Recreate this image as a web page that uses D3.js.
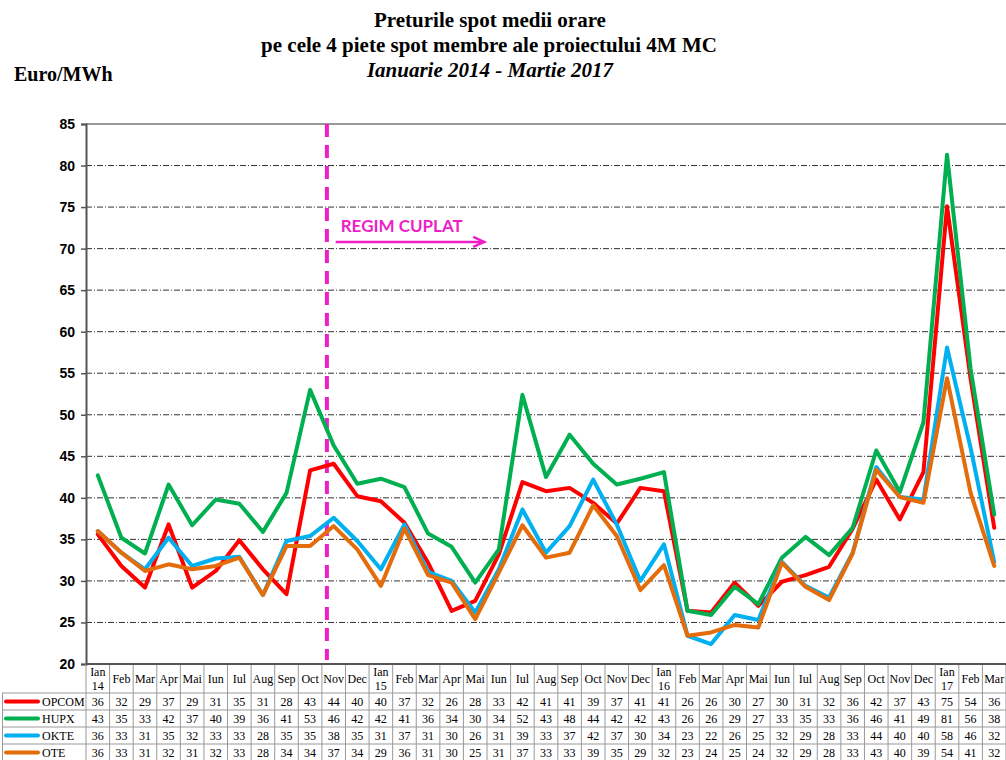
<!DOCTYPE html>
<html>
<head>
<meta charset="utf-8">
<script src="https://cdn.jsdelivr.net/npm/d3@7"></script>
<style>
  body { margin: 0; background: #fff; }
  svg { display: block; }
</style>
</head>
<body>
<svg id="chart"></svg>
<script>
// month labels (two-line ones carry the year)
const months = ["Ian 14", "Feb", "Mar", "Apr", "Mai", "Iun", "Iul", "Aug", "Sep", "Oct", "Nov", "Dec",
    "Ian 15", "Feb", "Mar", "Apr", "Mai", "Iun", "Iul", "Aug", "Sep", "Oct", "Nov", "Dec",
    "Ian 16", "Feb", "Mar", "Apr", "Mai", "Iun", "Iul", "Aug", "Sep", "Oct", "Nov", "Dec",
    "Ian 17", "Feb", "Mar"];

const opcom = [35.6, 31.8, 29.2, 36.8, 29.2, 31.2, 34.9, 31.4, 28.4, 43.3, 44.1, 40.2,
    39.6, 37.0, 32.2, 26.4, 27.6, 33.2, 41.9, 40.8, 41.2, 39.4, 36.9, 41.2,
    40.8, 26.4, 26.2, 29.8, 27.0, 29.9, 30.7, 31.7, 36.3, 42.2, 37.4, 43.1,
    75.1, 54.3, 36.4];
const hupx = [42.7, 35.2, 33.3, 41.6, 36.7, 39.8, 39.3, 35.9, 40.6, 53.0, 46.3, 41.7,
    42.3, 41.3, 35.7, 34.1, 29.8, 33.8, 52.4, 42.5, 47.6, 44.1, 41.6, 42.3,
    43.1, 26.4, 25.9, 29.3, 27.2, 32.8, 35.3, 33.1, 36.4, 45.7, 40.7, 49.1,
    81.3, 55.5, 38.0];
const okte = [36.0, 33.4, 31.4, 35.2, 31.8, 32.7, 32.9, 28.3, 34.8, 35.4, 37.6, 34.8,
    31.4, 36.8, 31.1, 30.0, 26.2, 31.4, 38.6, 33.4, 36.6, 42.2, 36.8, 30.0,
    34.4, 23.4, 22.4, 25.9, 25.3, 32.3, 29.4, 28.0, 33.4, 43.7, 40.1, 39.8,
    58.1, 46.0, 32.3];
const ote = [36.0, 33.4, 31.2, 32.0, 31.4, 31.8, 32.8, 28.3, 34.2, 34.2, 36.6, 33.8,
    29.4, 36.3, 30.7, 29.8, 25.4, 31.0, 36.7, 32.8, 33.4, 39.1, 35.4, 28.9,
    31.9, 23.4, 23.8, 24.7, 24.4, 32.2, 29.3, 27.7, 33.3, 43.4, 40.1, 39.4,
    54.4, 40.6, 31.8];

const seriesNames = ["OPCOM", "HUPX", "OKTE", "OTE"];
const seriesColors = ["#ff0000", "#00b050", "#00b0f0", "#e46c0a"];
const yTicks = [20, 25, 30, 35, 40, 45, 50, 55, 60, 65, 70, 75, 80, 85];
const couplingIndex = 10; // Nov 2014

const W = 1006, H = 760;
const plot = { left: 86, right: 1006, top: 124, bottom: 664 };
const magenta = "#ee1fc6";

const svg = d3.select("#chart").attr("width", W).attr("height", H);
svg.append("rect").attr("width", W).attr("height", H).attr("fill", "#fff");

const x = d3.scaleBand()
    .domain(d3.range(months.length))
    .range([plot.left, plot.right])
    .paddingInner(0).paddingOuter(0);
const bw = x.bandwidth();
const cx = i => x(i) + bw / 2;

const y = d3.scaleLinear().domain([20, 85]).range([plot.bottom, plot.top]);

// titles
const title = svg.append("g").attr("font-family", "'Liberation Serif', 'Times New Roman', serif")
    .attr("font-weight", "bold").attr("text-anchor", "middle").attr("fill", "#000");
title.append("text").attr("x", 490).attr("y", 27).attr("font-size", 21).text("Preturile spot medii orare");
title.append("text").attr("x", 489).attr("y", 52).attr("font-size", 21).text("pe cele 4 piete spot membre ale proiectului 4M MC");
title.append("text").attr("x", 490).attr("y", 77).attr("font-size", 21).attr("font-style", "italic")
    .text("Ianuarie 2014 - Martie 2017");
svg.append("text").attr("x", 14).attr("y", 81)
    .attr("font-family", "'Liberation Serif', 'Times New Roman', serif")
    .attr("font-weight", "bold").attr("font-size", 20).text("Euro/MWh");

// gridlines
svg.append("g").selectAll("line")
    .data(yTicks.filter(t => t > 20 && t < 85))
    .join("line")
    .attr("x1", plot.left).attr("x2", plot.right)
    .attr("y1", d => y(d)).attr("y2", d => y(d))
    .attr("stroke", "#333").attr("stroke-width", 1)
    .attr("stroke-dasharray", "6,2,1,2");
svg.append("line")
    .attr("x1", plot.left).attr("x2", plot.right)
    .attr("y1", y(85)).attr("y2", y(85))
    .attr("stroke", "#999").attr("stroke-width", 2);

// y axis
const yAxis = svg.append("g")
    .attr("transform", `translate(${plot.left},0)`)
    .call(d3.axisLeft(y).tickValues(yTicks).tickSize(5).tickPadding(6));
yAxis.select(".domain").attr("stroke", "#555").attr("stroke-width", 2);
yAxis.selectAll(".tick line").attr("stroke", "#555").attr("stroke-width", 1.5);
yAxis.selectAll(".tick text")
    .attr("font-family", "'Liberation Sans', Arial, sans-serif")
    .attr("font-weight", "bold").attr("font-size", 14).attr("fill", "#000");

// coupling marker
svg.append("line")
    .attr("x1", x(couplingIndex) + 5).attr("x2", x(couplingIndex) + 5)
    .attr("y1", y(85)).attr("y2", y(20) - 4)
    .attr("stroke", magenta).attr("stroke-width", 4)
    .attr("stroke-dasharray", "13,8");
svg.append("text")
    .attr("x", cx(couplingIndex) + 7).attr("y", y(72))
    .attr("font-family", "Lato, 'Open Sans', sans-serif")
    .attr("font-weight", "bold").attr("font-size", 17)
    .attr("fill", magenta).text("REGIM CUPLAT");
const arrowY = y(70.8);
const arrowX0 = cx(couplingIndex) + 2, arrowX1 = cx(16) + 9;
svg.append("line")
    .attr("x1", arrowX0).attr("x2", arrowX1)
    .attr("y1", arrowY).attr("y2", arrowY)
    .attr("stroke", magenta).attr("stroke-width", 2.5);
svg.append("path")
    .attr("d", `M${arrowX1 - 11},${arrowY - 5} L${arrowX1},${arrowY} L${arrowX1 - 11},${arrowY + 5}`)
    .attr("fill", "none").attr("stroke", magenta).attr("stroke-width", 2.5);

// series lines
const allSeries = [opcom, hupx, okte, ote];
const line = d3.line().x((d, i) => cx(i)).y(d => y(d));
svg.append("g").selectAll("path")
    .data(allSeries)
    .join("path")
    .attr("d", d => line(d))
    .attr("fill", "none")
    .attr("stroke", (d, i) => seriesColors[i])
    .attr("stroke-width", 4)
    .attr("stroke-linejoin", "round")
    .attr("stroke-linecap", "round");

// data table
const headTop = plot.bottom, headBottom = 693, rowH = 17;
const tbl = svg.append("g")
    .attr("font-family", "'Liberation Serif', 'Times New Roman', serif")
    .attr("font-size", 12).attr("fill", "#000");
const grid = "#999";

// vertical column borders
tbl.selectAll("line.col")
    .data(d3.range(months.length + 1))
    .join("line").attr("class", "col")
    .attr("x1", i => plot.left + i * bw).attr("x2", i => plot.left + i * bw)
    .attr("y1", headTop).attr("y2", H)
    .attr("stroke", grid).attr("stroke-width", 1);
// horizontal row borders
tbl.selectAll("line.row")
    .data(d3.range(seriesNames.length))
    .join("line").attr("class", "row")
    .attr("x1", 2).attr("x2", plot.right)
    .attr("y1", i => headBottom + i * rowH).attr("y2", i => headBottom + i * rowH)
    .attr("stroke", grid).attr("stroke-width", 1);
tbl.append("line")
    .attr("x1", 2.5).attr("x2", 2.5).attr("y1", headBottom).attr("y2", H)
    .attr("stroke", grid).attr("stroke-width", 1);

// header labels
months.forEach((m, i) => {
    const parts = m.split(" ");
    const t = tbl.append("text").attr("text-anchor", "middle").attr("x", cx(i));
    if (parts.length === 1) {
        t.attr("y", 683).text(m);
    } else {
        t.append("tspan").attr("x", cx(i)).attr("y", 676).text(parts[0]);
        t.append("tspan").attr("x", cx(i)).attr("y", 690).text(parts[1]);
    }
});

// value rows + legend keys
allSeries.forEach((s, r) => {
    const mid = headBottom + r * rowH + rowH / 2;
    tbl.append("line")
        .attr("x1", 6).attr("x2", 38).attr("y1", mid).attr("y2", mid)
        .attr("stroke", seriesColors[r]).attr("stroke-width", 4).attr("stroke-linecap", "round");
    tbl.append("text").attr("x", 42).attr("y", mid + 4).text(seriesNames[r]);
    tbl.selectAll(null)
        .data(s)
        .join("text")
        .attr("text-anchor", "middle")
        .attr("x", (d, i) => cx(i))
        .attr("y", mid + 4)
        .text(d => Math.round(d));
});

// x axis line
svg.append("line")
    .attr("x1", plot.left).attr("x2", plot.right)
    .attr("y1", plot.bottom).attr("y2", plot.bottom)
    .attr("stroke", "#555").attr("stroke-width", 2);
</script>
</body>
</html>
